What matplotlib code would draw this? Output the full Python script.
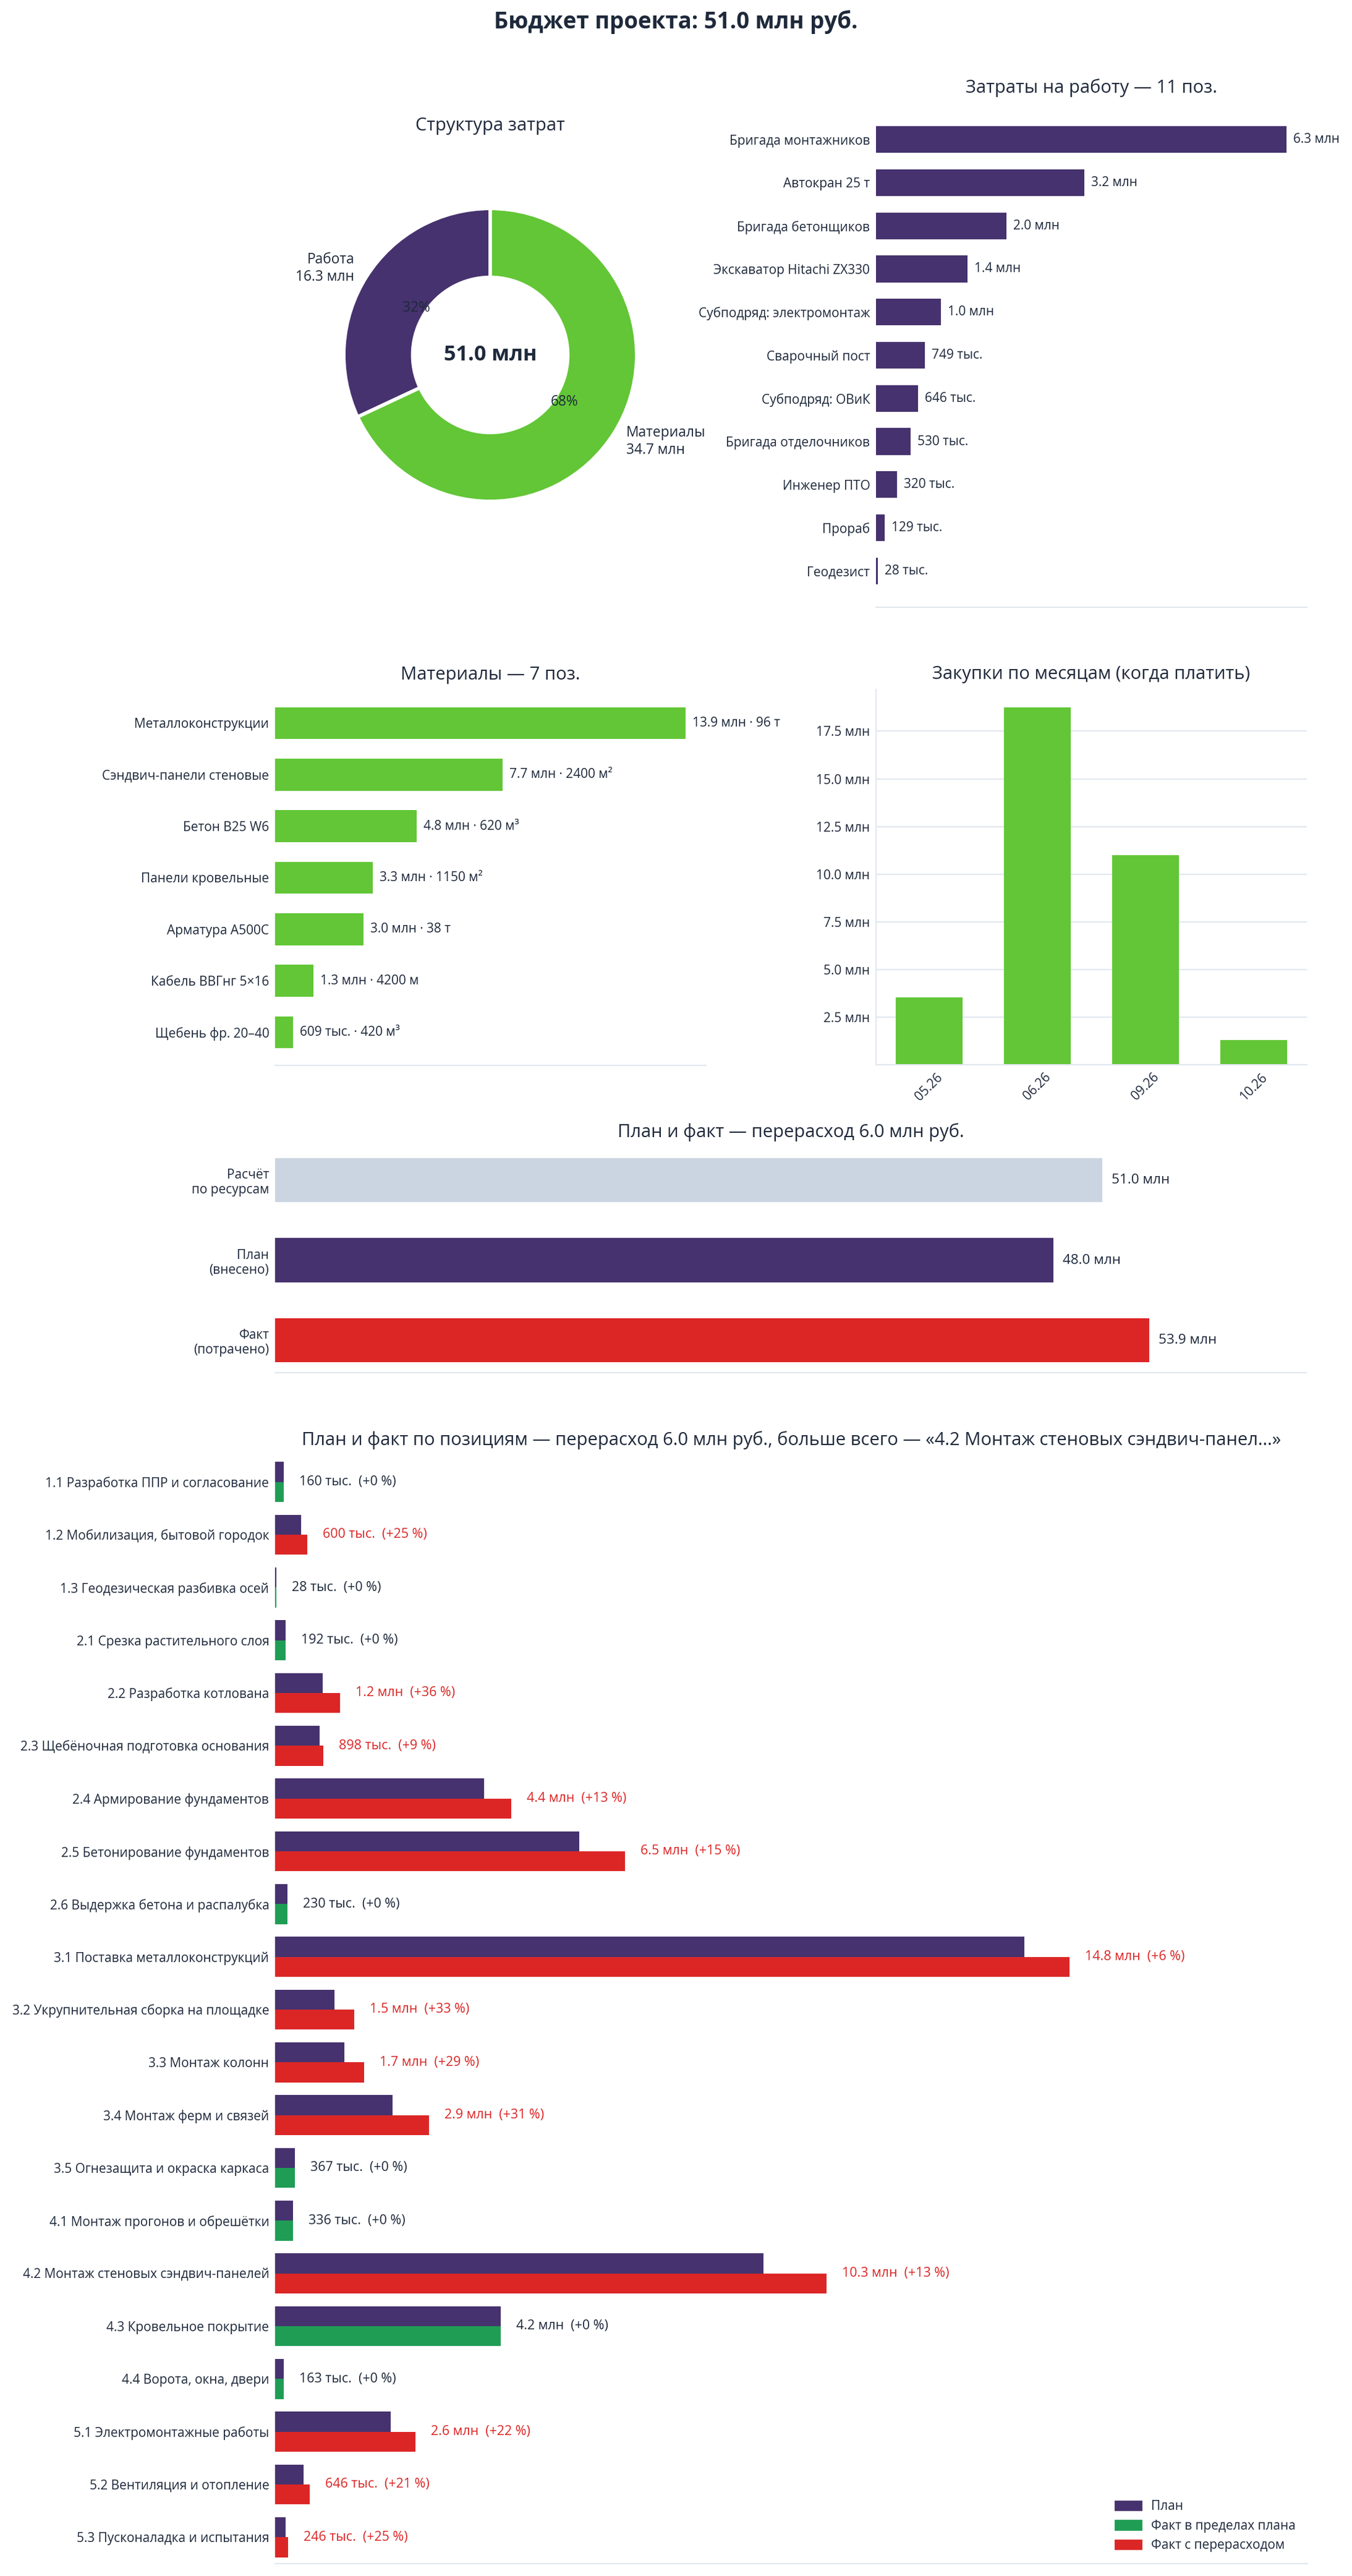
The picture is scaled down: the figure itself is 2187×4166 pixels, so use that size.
import matplotlib
matplotlib.use("Agg")
import matplotlib.pyplot as plt
from matplotlib.patches import Patch
from matplotlib.ticker import MultipleLocator, FuncFormatter
import numpy as np

plt.rcParams["font.family"] = ["Open Sans", "Noto Sans", "DejaVu Sans"]

# Colours
PURPLE = "#46326e"
GREEN = "#62c636"
GREEN_OK = "#1f9d55"
RED = "#dc2626"
SLATE = "#cbd5e1"
TEXT = "#1e293b"
LINE = "#e2e8f0"
SMALL = 7.5

# Data (тыс. руб.)
structure_names = ["Работа", "Материалы"]
structure_cost = [16300, 34700]

labor_names = ["Бригада монтажников", "Автокран 25 т", "Бригада бетонщиков",
               "Экскаватор Hitachi ZX330", "Субподряд: электромонтаж", "Сварочный пост",
               "Субподряд: ОВиК", "Бригада отделочников", "Инженер ПТО", "Прораб", "Геодезист"]
labor_cost = [6300, 3200, 2000, 1400, 1000, 749, 646, 530, 320, 129, 28]

material_names = ["Металлоконструкции", "Сэндвич-панели стеновые", "Бетон B25 W6",
                  "Панели кровельные", "Арматура А500С", "Кабель ВВГнг 5×16", "Щебень фр. 20–40"]
material_cost = [13900, 7700, 4800, 3300, 3000, 1300, 609]
material_qty = ["96 т", "2400 м²", "620 м³", "1150 м²", "38 т", "4200 м", "420 м³"]

months = ["05.26", "06.26", "09.26", "10.26"]
month_cost = [3550, 18750, 11000, 1310]

summary_names = ["Расчёт\nпо ресурсам", "План\n(внесено)", "Факт\n(потрачено)"]
summary_cost = [51000, 48000, 53900]

item_names = ["1.1 Разработка ППР и согласование", "1.2 Мобилизация, бытовой городок",
              "1.3 Геодезическая разбивка осей", "2.1 Срезка растительного слоя",
              "2.2 Разработка котлована", "2.3 Щебёночная подготовка основания",
              "2.4 Армирование фундаментов", "2.5 Бетонирование фундаментов",
              "2.6 Выдержка бетона и распалубка", "3.1 Поставка металлоконструкций",
              "3.2 Укрупнительная сборка на площадке", "3.3 Монтаж колонн",
              "3.4 Монтаж ферм и связей", "3.5 Огнезащита и окраска каркаса",
              "4.1 Монтаж прогонов и обрешётки", "4.2 Монтаж стеновых сэндвич-панелей",
              "4.3 Кровельное покрытие", "4.4 Ворота, окна, двери",
              "5.1 Электромонтажные работы", "5.2 Вентиляция и отопление",
              "5.3 Пусконаладка и испытания"]
item_plan = [160, 480, 28, 192, 890, 824, 3890, 5670, 230, 13960, 1110,
             1290, 2190, 367, 336, 9100, 4200, 163, 2150, 534, 197]
item_fact = [160, 600, 28, 192, 1210, 898, 4400, 6520, 230, 14800, 1480,
             1660, 2870, 367, 336, 10280, 4200, 163, 2620, 646, 246]


def money(v):
    if v >= 1000:
        return f"{v / 1000:.1f} млн"
    return f"{v:.0f} тыс."


W, H = 2187, 4166
fig = plt.figure(figsize=(W / 200, H / 200), dpi=200)


def px_axes(x0, y0, x1, y1):
    return fig.add_axes([x0 / W, 1 - y1 / H, (x1 - x0) / W, (y1 - y0) / H])


def clean(ax, left=False):
    for s in ["top", "right", "left"]:
        ax.spines[s].set_visible(False)
    ax.spines["bottom"].set_color(LINE)
    if left:
        ax.spines["left"].set_visible(True)
        ax.spines["left"].set_color(LINE)
    ax.tick_params(length=0, labelsize=SMALL, labelcolor=TEXT)


def hbar(ax, names, values, color, labels, title):
    y = np.arange(len(names))
    vals = [v / 1000 for v in values]
    bars = ax.barh(y, vals, height=0.62, color=color)
    ax.set_yticks(y, names)
    ax.invert_yaxis()
    ax.set_xlim(0, max(vals) * 1.05)
    ax.set_xticks([])
    ax.bar_label(bars, labels=labels, padding=4, fontsize=SMALL, color=TEXT)
    clean(ax)
    ax.set_title(title, fontsize=10.5, color=TEXT)


fig.suptitle("Бюджет проекта: 51.0 млн руб.", y=1 - 36 / H, va="center",
             fontsize=13.2, fontweight="bold", color=TEXT)

# Donut
ax = px_axes(497, 278, 1089, 870)
wedges, texts, autotexts = ax.pie(
    [v / 1000 for v in structure_cost],
    labels=[f"{n}\n{money(v)}" for n, v in zip(structure_names, structure_cost)],
    colors=[PURPLE, GREEN], startangle=90, autopct="%.0f%%",
    pctdistance=0.6, labeldistance=1.1,
    wedgeprops=dict(width=0.47, edgecolor="white", linewidth=2),
    textprops=dict(color=TEXT, fontsize=8.2))
ax.text(0, 0, money(sum(structure_cost)), ha="center", va="center",
        fontsize=12.3, fontweight="bold", color=TEXT)
ax.set_title("Структура затрат", fontsize=10.5, color=TEXT, pad=24)

# Labor
ax = px_axes(1417, 167, 2114, 982)
hbar(ax, labor_names, labor_cost, PURPLE, [money(v) for v in labor_cost],
     "Затраты на работу — 11 поз.")

# Materials
ax = px_axes(445, 1116, 1142, 1723)
hbar(ax, material_names, material_cost, GREEN,
     [f"{money(v)} · {q}" for v, q in zip(material_cost, material_qty)],
     "Материалы — 7 поз.")

# Purchases by month
ax = px_axes(1417, 1115, 2114, 1722)
ax.bar(months, [v / 1000 for v in month_cost], width=0.62, color=GREEN)
ax.yaxis.set_major_locator(MultipleLocator(2.5))
ax.yaxis.set_major_formatter(FuncFormatter(lambda v, p: "" if v <= 0 else f"{v:.1f} млн"))
ax.grid(axis="y", color=LINE, linewidth=0.8)
ax.set_axisbelow(True)
clean(ax, left=True)
plt.setp(ax.get_xticklabels(), rotation=45)
ax.set_title("Закупки по месяцам (когда платить)", fontsize=10.5, color=TEXT)

# Plan vs fact summary
ax = px_axes(445, 1856, 2113, 2220)
y = np.arange(len(summary_names))
vals = [v / 1000 for v in summary_cost]
bars = ax.barh(y, vals, height=0.55, color=[SLATE, PURPLE, RED])
ax.set_yticks(y, summary_names)
ax.invert_yaxis()
ax.set_xlim(0, max(vals) * 1.18)
ax.set_xticks([])
ax.bar_label(bars, labels=[money(v) for v in summary_cost], padding=5.5,
             fontsize=8.1, color=TEXT)
clean(ax)
ax.set_title("План и факт — перерасход 6.0 млн руб.", fontsize=10.5, color=TEXT)

# Plan vs fact per item
ax = px_axes(445, 2354, 2115, 4146)
n = len(item_names)
y = np.arange(n)
plan = [v / 1000 for v in item_plan]
fact = [v / 1000 for v in item_fact]
over = [f > p for p, f in zip(plan, fact)]
ax.barh(y - 0.19, plan, height=0.38, color=PURPLE)
ax.barh(y + 0.19, fact, height=0.38, color=[RED if o else GREEN_OK for o in over])
for i in range(n):
    pct = round((item_fact[i] / item_plan[i] - 1) * 100)
    ax.annotate(f"{money(item_fact[i])}  (+{pct} %)", (max(plan[i], fact[i]), i),
                xytext=(9, 0), textcoords="offset points", va="center",
                fontsize=7.7, color=RED if over[i] else TEXT)
ax.set_yticks(y, item_names)
ax.set_ylim(n - 0.5, -0.5)
ax.set_xlim(0, max(fact) * 1.3)
ax.set_xticks([])
clean(ax)
ax.legend(handles=[Patch(color=PURPLE, label="План"),
                   Patch(color=GREEN_OK, label="Факт в пределах плана"),
                   Patch(color=RED, label="Факт с перерасходом")],
          loc="lower right", frameon=False, fontsize=SMALL, labelcolor=TEXT)
ax.set_title("План и факт по позициям — перерасход 6.0 млн руб., больше всего — "
             "«4.2 Монтаж стеновых сэндвич-панел...»", fontsize=10.5, color=TEXT)

fig.savefig("out.png", dpi=200)
